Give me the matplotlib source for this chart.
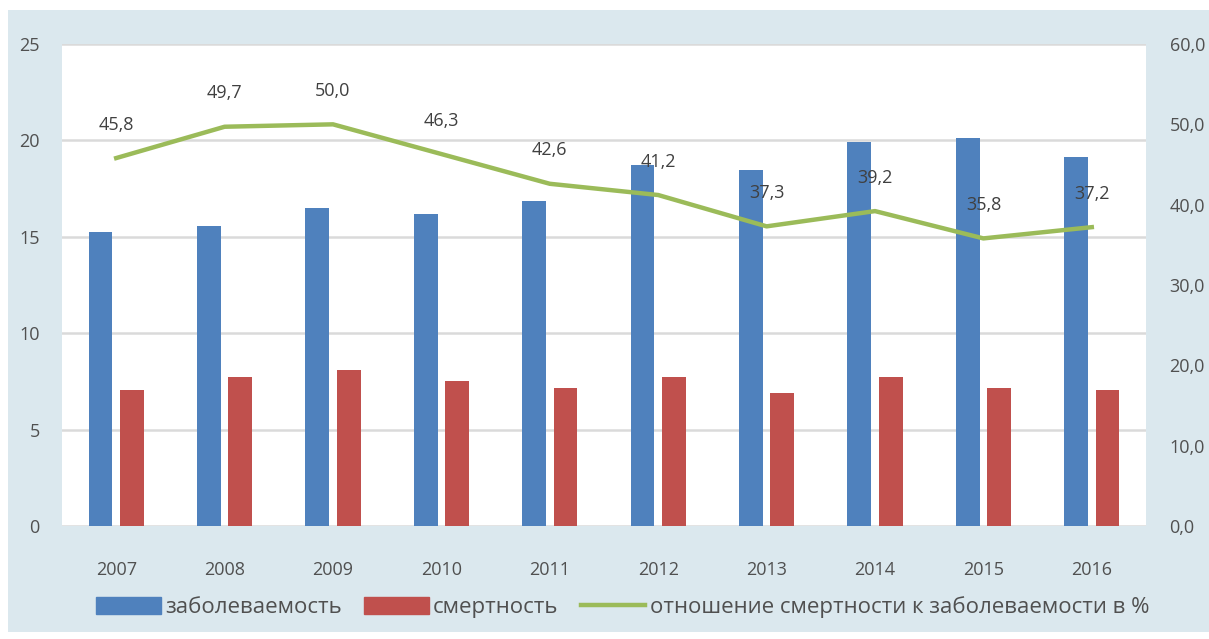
import matplotlib
matplotlib.use("Agg")
import matplotlib.pyplot as plt
from matplotlib.patches import Rectangle
from matplotlib.lines import Line2D
from matplotlib.patches import Patch
import numpy as np

years = ['2007', '2008', '2009', '2010', '2011', '2012', '2013', '2014', '2015', '2016']
incidence = [15.25, 15.55, 16.5, 16.2, 16.85, 18.7, 18.45, 19.9, 20.1, 19.15]
mortality = [7.05, 7.75, 8.1, 7.5, 7.15, 7.75, 6.9, 7.75, 7.15, 7.05]
ratio = [45.8, 49.7, 50.0, 46.3, 42.6, 41.2, 37.3, 39.2, 35.8, 37.2]

c_blue = '#4f81bd'
c_red = '#c0504d'
c_green = '#9bbb59'
c_text = '#505050'
c_panel = '#dbe8ee'

plt.rcParams['font.family'] = ['Open Sans', 'DejaVu Sans']

fig = plt.figure(figsize=(12.09, 6.39), dpi=100)
fig.patch.set_facecolor('white')
# light blue panel behind the chart
fig.patches.append(Rectangle((8 / 1209, 7 / 639), 1 - 8 / 1209, 1 - 17 / 639,
                             transform=fig.transFigure, facecolor=c_panel,
                             edgecolor='none', zorder=-5))

ax = fig.add_axes([62 / 1209, 113 / 639, 1084 / 1209, 482 / 639])
ax.set_facecolor('white')
x = np.arange(len(years))
w = 0.22
ax.bar(x - 0.145, incidence, w, color=c_blue, zorder=3)
ax.bar(x + 0.145, mortality, w, color=c_red, zorder=3)
ax.set_xlim(-0.5, len(years) - 0.5)
ax.set_ylim(0, 25)
ax.set_yticks(range(0, 26, 5))
ax.yaxis.grid(True, color='#dadada', linewidth=1.8, zorder=0)
ax.set_axisbelow(True)
ax.set_xticks(x)
ax.set_xticklabels(years)
for s in ax.spines.values():
    s.set_visible(False)
ax.tick_params(axis='both', length=0, labelsize=13, colors=c_text)
ax.tick_params(axis='x', pad=25)
ax.tick_params(axis='y', pad=16)

ax2 = ax.twinx()
ax2.plot(x, ratio, color=c_green, linewidth=3.2, zorder=4)
ax2.set_ylim(0, 60)
ax2.set_yticks(range(0, 61, 10))
ax2.set_yticklabels([f'{v:.1f}'.replace('.', ',') for v in range(0, 61, 10)])
for s in ax2.spines.values():
    s.set_visible(False)
ax2.tick_params(axis='y', length=0, labelsize=13, colors=c_text, pad=17)
for xi, v in zip(x, ratio):
    ax2.annotate(f'{v:.1f}'.replace('.', ','), (xi, v), xytext=(0, 24),
                 textcoords='offset points', ha='center', va='center',
                 fontsize=13, color='#404040', zorder=5)

handles = [Patch(color=c_blue), Patch(color=c_red),
           Line2D([], [], color=c_green, linewidth=3.2)]
labels = ['заболеваемость', 'смертность', 'отношение смертности к заболеваемости в %']
fig.legend(handles, labels, loc='center', bbox_to_anchor=(0.515, 32 / 639),
           ncol=3, frameon=False, fontsize=16, labelcolor=c_text,
           handlelength=2.9, handleheight=0.8, handletextpad=0.2, columnspacing=1.0)

fig.savefig('out.png', dpi=100, facecolor=fig.get_facecolor())
